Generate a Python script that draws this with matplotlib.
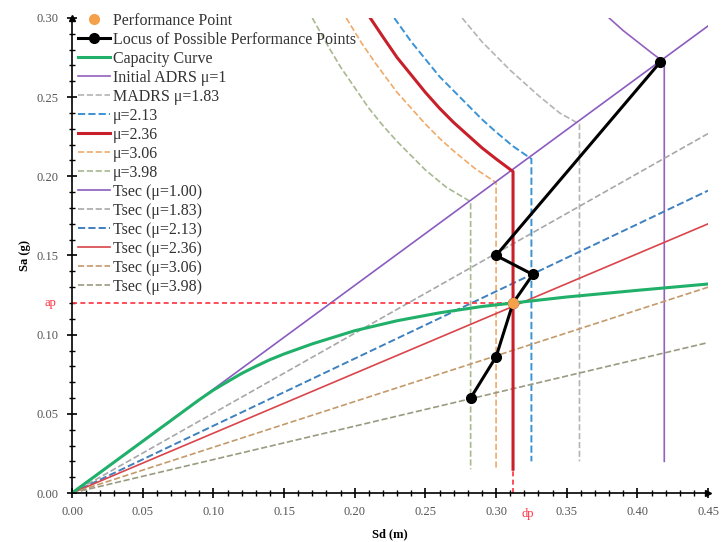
import matplotlib
matplotlib.use("Agg")
import matplotlib.pyplot as plt
from matplotlib.ticker import MultipleLocator, FormatStrFormatter

plt.rcParams['font.family'] = ['Liberation Serif', 'DejaVu Serif']

# ---------------- data ----------------
# Capacity curve
cap_sd = [0.0, 0.05, 0.09, 0.10, 0.11, 0.12, 0.13, 0.14, 0.15, 0.17, 0.20, 0.23, 0.26, 0.29, 0.312, 0.35, 0.40, 0.45]
cap_sa = [0.0, 0.0327, 0.0589, 0.0650, 0.0703, 0.0755, 0.0800, 0.0842, 0.0878, 0.0942, 0.1025, 0.1088, 0.1138, 0.1178, 0.1200, 0.1238, 0.1280, 0.1320]

# Demand spectra (ADRS) for each ductility
adrs_1_sd = [0.380, 0.390, 0.400, 0.410, 0.419, 0.419]
adrs_1_sa = [0.300, 0.292, 0.285, 0.278, 0.272, 0.020]
adrs_183_sd = [0.276, 0.290, 0.310, 0.330, 0.345, 0.359, 0.359]
adrs_183_sa = [0.300, 0.285, 0.267, 0.251, 0.240, 0.233, 0.020]
adrs_213_sd = [0.228, 0.240, 0.250, 0.260, 0.270, 0.280, 0.290, 0.300, 0.312, 0.325, 0.325]
adrs_213_sa = [0.300, 0.285, 0.274, 0.263, 0.254, 0.245, 0.236, 0.228, 0.219, 0.211, 0.020]
adrs_236_sd = [0.211, 0.220, 0.230, 0.240, 0.250, 0.260, 0.270, 0.280, 0.290, 0.300, 0.312, 0.312]
adrs_236_sa = [0.300, 0.288, 0.275, 0.264, 0.253, 0.243, 0.234, 0.226, 0.218, 0.211, 0.203, 0.015]
adrs_306_sd = [0.194, 0.205, 0.215, 0.230, 0.240, 0.250, 0.260, 0.270, 0.285, 0.300, 0.300]
adrs_306_sa = [0.300, 0.284, 0.271, 0.253, 0.243, 0.233, 0.224, 0.216, 0.205, 0.196, 0.015]
adrs_398_sd = [0.170, 0.180, 0.190, 0.200, 0.210, 0.220, 0.230, 0.240, 0.250, 0.265, 0.282, 0.282]
adrs_398_sa = [0.300, 0.284, 0.269, 0.256, 0.243, 0.232, 0.222, 0.213, 0.204, 0.193, 0.184, 0.015]

# Secant period lines (from origin to Sd = 0.45)
tsec_sd = [0.0, 0.45]
tsec_1_sa = [0.0, 0.295]
tsec_183_sa = [0.0, 0.227]
tsec_213_sa = [0.0, 0.191]
tsec_236_sa = [0.0, 0.170]
tsec_306_sa = [0.0, 0.130]
tsec_398_sa = [0.0, 0.095]

# Locus of possible performance points
locus_sd = [0.416, 0.300, 0.326, 0.312, 0.300, 0.282]
locus_sa = [0.272, 0.150, 0.138, 0.120, 0.086, 0.060]

# Performance point
dp = 0.312
ap = 0.120

# ---------------- figure ----------------
fig = plt.figure(figsize=(7.21, 5.42), dpi=100)
ax = fig.add_axes([0.0999, 0.0904, 0.8822, 0.8764])

purple = '#9460c0'
c_183 = '#b4b4b4'
c_213 = '#3a93d6'
c_236 = '#c8202a'
c_306 = '#f0aa6a'
c_398 = '#a8b890'

ax.plot(dp, ap, 'o', color='#f5a04a', markersize=7, zorder=10, label='Performance Point')
ax.plot(locus_sd, locus_sa, '-o', color='black', lw=2.2, markersize=7, zorder=8,
        label='Locus of Possible Performance Points')
ax.plot(cap_sd, cap_sa, '-', color='#20b06a', lw=2.2, zorder=7, label='Capacity Curve')
ax.plot(adrs_1_sd, adrs_1_sa, '-', color=purple, lw=1.2, label='Initial ADRS μ=1')
ax.plot(adrs_183_sd, adrs_183_sa, '--', color=c_183, lw=1.2, label='MADRS μ=1.83')
ax.plot(adrs_213_sd, adrs_213_sa, '--', color=c_213, lw=1.4, label='μ=2.13')
ax.plot(adrs_236_sd, adrs_236_sa, '-', color=c_236, lw=2.2, zorder=6, label='μ=2.36')
ax.plot(adrs_306_sd, adrs_306_sa, '--', color=c_306, lw=1.2, label='μ=3.06')
ax.plot(adrs_398_sd, adrs_398_sa, '--', color=c_398, lw=1.2, label='μ=3.98')
ax.plot(tsec_sd, tsec_1_sa, '-', color='#8a5cc0', lw=1.2, label='Tsec (μ=1.00)')
ax.plot(tsec_sd, tsec_183_sa, '--', color='#a8a8a8', lw=1.2, label='Tsec (μ=1.83)')
ax.plot(tsec_sd, tsec_213_sa, '--', color='#3f80bf', lw=1.4, label='Tsec (μ=2.13)')
ax.plot(tsec_sd, tsec_236_sa, '-', color='#d9454a', lw=1.2, label='Tsec (μ=2.36)')
ax.plot(tsec_sd, tsec_306_sa, '--', color='#c49a6a', lw=1.2, label='Tsec (μ=3.06)')
ax.plot(tsec_sd, tsec_398_sa, '--', color='#9a9a80', lw=1.2, label='Tsec (μ=3.98)')

# performance point guide lines
ax.plot([0, dp], [ap, ap], linestyle=(0, (3, 2)), color='#ff3040', lw=1.2, zorder=5)
ax.plot([dp, dp], [0, ap], linestyle=(0, (3, 2)), color='#ff3040', lw=1.2, zorder=5)

ax.set_xlim(0, 0.45)
ax.set_ylim(0, 0.30)

for s in ['top', 'right']:
    ax.spines[s].set_visible(False)
for s in ['left', 'bottom']:
    ax.spines[s].set_linewidth(1.2)
    ax.spines[s].set_zorder(12)

ax.xaxis.set_major_locator(MultipleLocator(0.05))
ax.xaxis.set_minor_locator(MultipleLocator(0.01))
ax.yaxis.set_major_locator(MultipleLocator(0.05))
ax.yaxis.set_minor_locator(MultipleLocator(0.01))
ax.xaxis.set_major_formatter(FormatStrFormatter('%.2f'))
ax.yaxis.set_major_formatter(FormatStrFormatter('%.2f'))
ax.tick_params(which='major', direction='inout', length=7, width=1.2, labelsize=9,
               labelcolor='#555555', pad=6)
ax.tick_params(which='minor', direction='inout', length=5, width=1.0)

# arrow heads at the axis ends
ax.plot(1, 0, '>', color='black', markersize=5, transform=ax.transAxes, clip_on=False, zorder=13)
ax.plot(0, 1, '^', color='black', markersize=4, transform=ax.transAxes, clip_on=False, zorder=13)

ax.set_xlabel('Sd (m)', fontsize=9, fontweight='bold', labelpad=7)
ax.set_ylabel('Sa (g)', fontsize=9, fontweight='bold', labelpad=4)

ax.text(-0.024, ap, 'ap', color='#ff3040', fontsize=9, ha='right', va='center',
        transform=ax.get_yaxis_transform())
ax.text(dp + 0.006, -0.0095, 'dp', color='#ff3040', fontsize=9, ha='left', va='top')

leg = ax.legend(loc='upper left', bbox_to_anchor=(0.0, 1.025), frameon=False,
                fontsize=11.5, labelspacing=0.19, handlelength=2.0, handletextpad=0.15,
                borderaxespad=0.2, borderpad=0.2, labelcolor='#333333')

fig.savefig('out.png', dpi=100)
